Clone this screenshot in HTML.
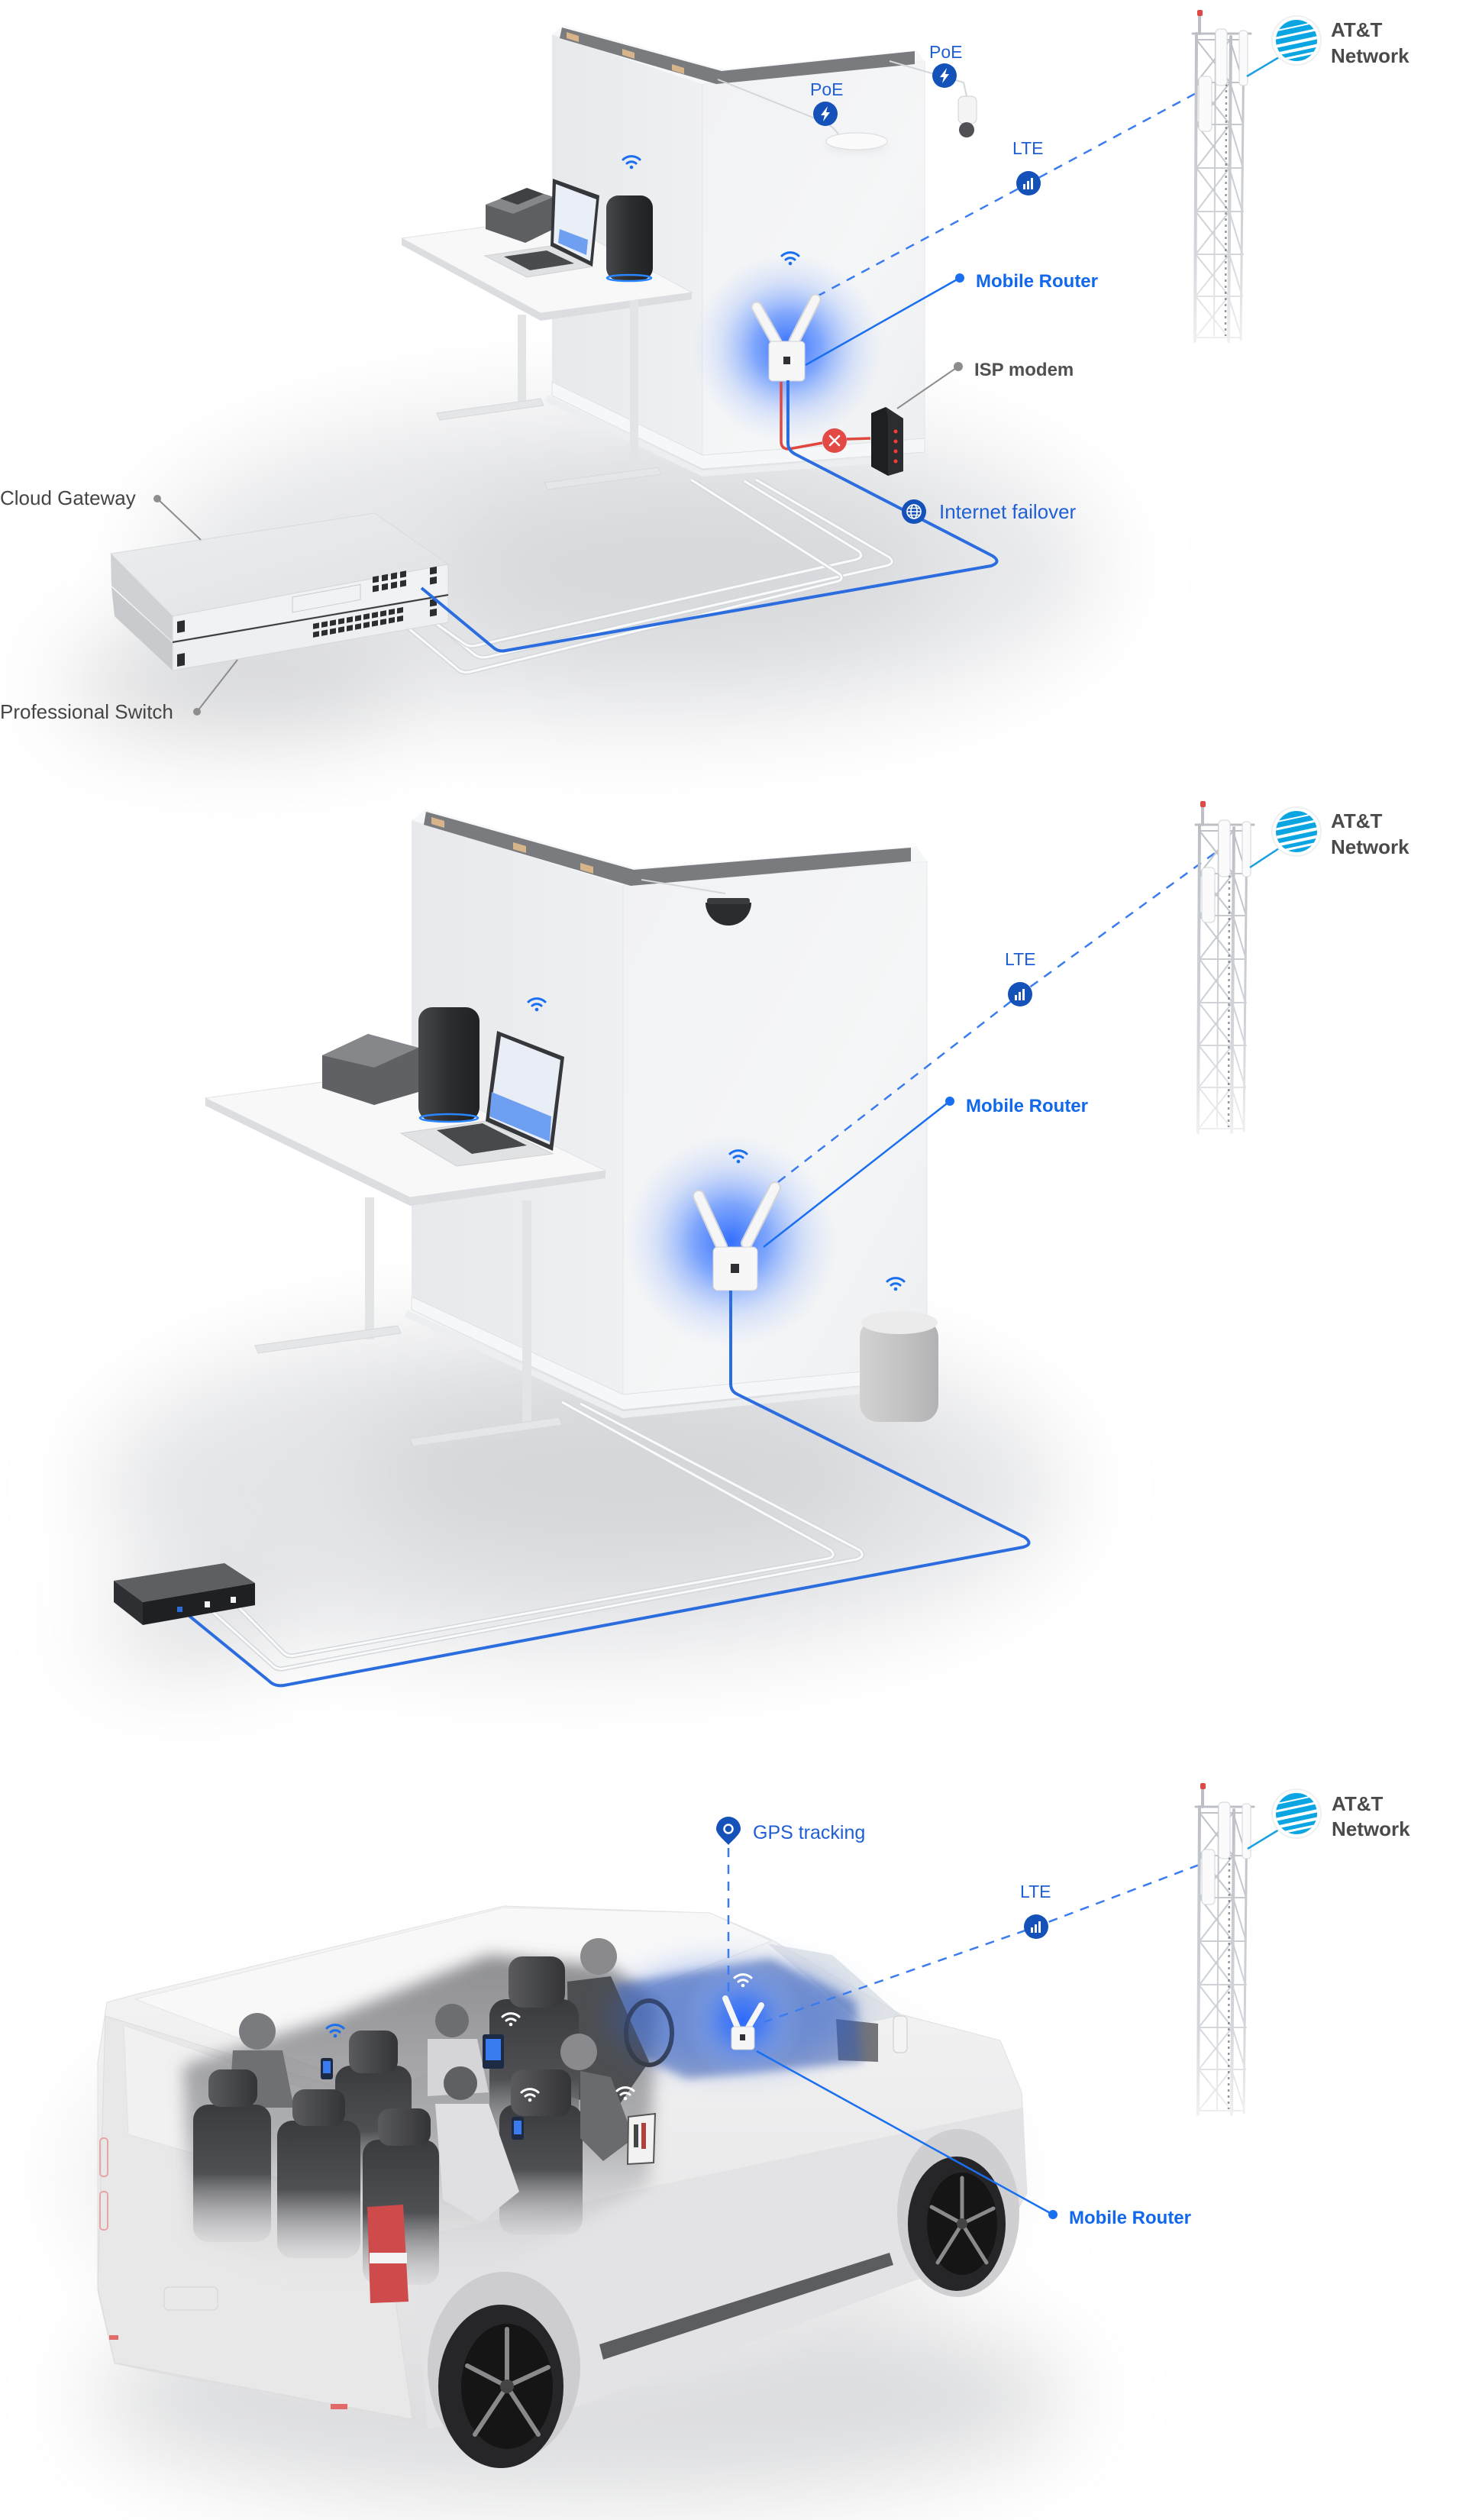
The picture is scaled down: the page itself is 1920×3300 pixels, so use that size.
<!DOCTYPE html>
<html><head><meta charset="utf-8">
<style>
html,body{margin:0;padding:0;background:#fff;}
svg{display:block}
text{font-family:"Liberation Sans",sans-serif;}
</style></head>
<body>
<svg width="1920" height="3300" viewBox="0 0 1920 3300" xmlns="http://www.w3.org/2000/svg">
<defs>
  <filter id="b60" x="-50%" y="-50%" width="200%" height="200%"><feGaussianBlur stdDeviation="60"/></filter>
  <filter id="b35" x="-50%" y="-50%" width="200%" height="200%"><feGaussianBlur stdDeviation="35"/></filter>
  <filter id="b20" x="-50%" y="-50%" width="200%" height="200%"><feGaussianBlur stdDeviation="20"/></filter>
  <filter id="b10" x="-50%" y="-50%" width="200%" height="200%"><feGaussianBlur stdDeviation="10"/></filter>
  <filter id="b6" x="-50%" y="-50%" width="200%" height="200%"><feGaussianBlur stdDeviation="6"/></filter>
  <linearGradient id="wl" x1="0" y1="0" x2="1" y2="0"><stop offset="0" stop-color="#e7e9ec"/><stop offset="1" stop-color="#eef0f2"/></linearGradient>
  <linearGradient id="wr" x1="0" y1="0" x2="1" y2="1"><stop offset="0" stop-color="#f1f2f4"/><stop offset="0.6" stop-color="#f5f6f7"/><stop offset="1" stop-color="#eceef0"/></linearGradient>
  <radialGradient id="glow"><stop offset="0" stop-color="#2a68ff" stop-opacity="0.95"/><stop offset="0.35" stop-color="#3f7bff" stop-opacity="0.65"/><stop offset="0.7" stop-color="#7fa6ff" stop-opacity="0.25"/><stop offset="1" stop-color="#a9c3ff" stop-opacity="0"/></radialGradient>
  <linearGradient id="swtop" x1="0" y1="0" x2="1" y2="1"><stop offset="0" stop-color="#eceef0"/><stop offset="1" stop-color="#dfe1e4"/></linearGradient>
  <linearGradient id="spk" x1="0" y1="0" x2="1" y2="0"><stop offset="0" stop-color="#46484c"/><stop offset="0.5" stop-color="#2b2d31"/><stop offset="1" stop-color="#1f2124"/></linearGradient>
  <linearGradient id="gspk" x1="0" y1="0" x2="1" y2="0"><stop offset="0" stop-color="#d2d2d3"/><stop offset="0.5" stop-color="#c4c4c5"/><stop offset="1" stop-color="#b2b2b4"/></linearGradient>
  <linearGradient id="tw" gradientUnits="userSpaceOnUse" x1="0" y1="40" x2="0" y2="450"><stop offset="0" stop-color="#bcc0c6"/><stop offset="0.7" stop-color="#d2d5d9"/><stop offset="1" stop-color="#f0f1f3"/></linearGradient>
  <linearGradient id="vanb" x1="0" y1="0" x2="0" y2="1"><stop offset="0" stop-color="#f6f6f7"/><stop offset="0.45" stop-color="#ececed"/><stop offset="1" stop-color="#dedee0"/></linearGradient>
  <linearGradient id="seatg" x1="0" y1="0" x2="0" y2="1"><stop offset="0" stop-color="#3a3b3e"/><stop offset="0.5" stop-color="#4f5054"/><stop offset="1" stop-color="#c9c9cb" stop-opacity="0.3"/></linearGradient>
  <linearGradient id="backdrop" x1="0" y1="0" x2="0" y2="1"><stop offset="0" stop-color="#6a6b6e" stop-opacity="0.75"/><stop offset="0.55" stop-color="#7a7b7e" stop-opacity="0.55"/><stop offset="1" stop-color="#d5d5d7" stop-opacity="0"/></linearGradient>
  <linearGradient id="headg" x1="0" y1="0" x2="1" y2="0"><stop offset="0" stop-color="#5a5b5e"/><stop offset="1" stop-color="#333437"/></linearGradient>
  <clipPath id="attc"><circle r="27"/></clipPath>

  <g id="wifi" fill="none" stroke="#1a6ff0" stroke-width="3" stroke-linecap="round"><path d="M-11,-3 A16,16 0 0 1 11,-3"/><path d="M-6,2 A9,9 0 0 1 6,2"/><circle cx="0" cy="7" r="2.3" fill="#1a6ff0" stroke="none"/></g>
  <g id="wifiw" fill="none" stroke="#ffffff" stroke-width="3" stroke-linecap="round"><path d="M-11,-3 A16,16 0 0 1 11,-3"/><path d="M-6,2 A9,9 0 0 1 6,2"/><circle cx="0" cy="7" r="2.3" fill="#ffffff" stroke="none"/></g>
  <g id="lte"><circle r="16" fill="#1451b8"/><rect x="-7" y="1" width="3" height="7" fill="#fff"/><rect x="-2" y="-3" width="3" height="11" fill="#fff"/><rect x="3" y="-7" width="3" height="15" fill="#fff"/></g>
  <g id="poe"><circle r="16" fill="#1451b8"/><polygon points="3,-10 -6,2 -1,2 -3,10 6,-2 1,-2" fill="#fff"/></g>
  <g id="net"><circle r="16" fill="#1451b8"/><g fill="none" stroke="#fff" stroke-width="1.6"><circle r="9"/><ellipse rx="4" ry="9"/><line x1="-9" y1="0" x2="9" y2="0"/><path d="M-8,-4.5 H8 M-8,4.5 H8"/></g></g>
  <g id="xi"><circle r="16" fill="#e24a46"/><path d="M-6,-6 L6,6 M6,-6 L-6,6" stroke="#fff" stroke-width="2.5" stroke-linecap="round"/></g>
  <g id="gps"><path d="M0,18 C-4,13 -16,4 -16,-3 A16,16 0 0 1 16,-3 C16,4 4,13 0,18 Z" fill="#1451b8"/><circle cx="0" cy="-3" r="5.5" fill="none" stroke="#fff" stroke-width="2.5"/></g>
  <g id="att"><circle r="32" fill="#fff" stroke="#eef0f2" stroke-width="2"/><circle r="27" fill="#0ba6e2"/>
    <g clip-path="url(#attc)"><g transform="rotate(-12)" fill="#fff"><rect x="-32" y="-19" width="64" height="2"/><rect x="-32" y="-10" width="64" height="3"/><rect x="-32" y="0" width="64" height="4"/><rect x="-32" y="10" width="64" height="4"/><rect x="-32" y="19" width="64" height="3"/></g></g></g>

  <g id="tower">
    <g fill="none" stroke="url(#tw)" stroke-linecap="round">
      <line x1="1571" y1="20" x2="1571" y2="44" stroke-width="4"/>
      <line x1="1562" y1="44" x2="1638" y2="44" stroke-width="3"/>
      <line x1="1567" y1="44" x2="1565" y2="447" stroke-width="4"/>
      <line x1="1612" y1="48" x2="1609" y2="447" stroke-width="4"/>
      <line x1="1629" y1="44" x2="1625" y2="445" stroke-width="3"/>
      <line x1="1592" y1="44" x2="1590" y2="440" stroke-width="2"/>
      <path stroke-width="2" d="M1567 52H1628 M1567 108H1628 M1567 163H1628 M1567 220H1628 M1567 277H1628 M1567 333H1628 M1567 388H1627 M1566 442H1626
      M1567 52L1611 108M1611 52L1567 108 M1567 108L1611 163M1611 108L1567 163 M1567 163L1611 220M1611 163L1567 220 M1567 220L1610 277M1610 220L1567 277 M1566 277L1610 333M1610 277L1566 333 M1566 333L1610 388M1610 333L1566 388 M1566 388L1609 442M1609 388L1566 442
      M1611 52L1628 108 M1611 108L1628 163 M1611 163L1628 220 M1610 220L1627 277 M1610 277L1627 333 M1610 333L1627 388 M1609 388L1626 442"/>
    </g>
    <line x1="1606" y1="110" x2="1605" y2="440" stroke="#444" stroke-width="2.5" stroke-dasharray="3 5" opacity="0.55"/>
    <rect x="1592" y="38" width="15" height="74" rx="5" fill="#fbfbfc" stroke="#d3d6da"/>
    <rect x="1570" y="100" width="17" height="72" rx="5" fill="#fbfbfc" stroke="#d3d6da"/>
    <rect x="1623" y="40" width="11" height="72" rx="4" fill="#fbfbfc" stroke="#d3d6da"/>
    <rect x="1568" y="13" width="7" height="8" rx="2" fill="#e04848"/>
  </g>

  <path id="p1c1" d="M 990,628 L 1165,730 Q 1173,738 1160,741 L 640,860 Q 628,863 620,856 L 540,790"/>
  <path id="p1c2" d="M 975,630 L 1125,722 Q 1132,730 1120,733 L 625,845 Q 614,848 607,842 L 522,782"/>
  <path id="p1c3" d="M 905,628 L 1100,752 Q 1106,760 1094,762 L 615,880 Q 604,882 598,875 L 505,798"/>
  <path id="p2c1" d="M 736,1836 L 1088,2030 Q 1096,2038 1084,2041 L 386,2168 Q 376,2170 370,2163 L 305,2097"/>
  <path id="p2c2" d="M 760,1838 L 1126,2030 Q 1134,2038 1122,2042 L 372,2185 Q 362,2187 356,2180 L 270,2103"/>
</defs>

<!-- ================= PANEL 1 ================= -->
<g filter="url(#b60)">
  <ellipse cx="820" cy="740" rx="620" ry="210" fill="#e6e7e9"/>
  <ellipse cx="900" cy="745" rx="330" ry="120" fill="#d8d9dc"/>
  <ellipse cx="320" cy="895" rx="230" ry="65" fill="#d3d4d6"/>
</g>

<polygon points="723,45 920,110 920,612 723,516" fill="url(#wl)"/>
<polygon points="920,110 1211,80 1211,590 920,612" fill="url(#wr)" stroke="#e4e6e9" stroke-width="1"/>
<polygon points="723,45 738,33 945,91 1200,66 1211,80 920,110" fill="#f6f7f8"/>
<polygon points="736,36 945,93 1198,67 1198,84 938,110 733,50" fill="#7a7b7e"/>
<polygon points="742,42 758,47 758,55 742,50" fill="#d8b48a"/>
<polygon points="815,64 831,69 831,77 815,72" fill="#d8b48a"/>
<polygon points="880,84 896,89 896,97 880,92" fill="#d8b48a"/>
<polygon points="723,500 920,596 1211,574 1211,592 920,614 723,518" fill="#f6f7f8" stroke="#dfe1e4"/>
<polygon points="718,518 920,616 1216,594 1216,602 920,624 714,526" fill="#eceef0"/>

<rect x="678" y="412" width="11" height="122" fill="#e3e4e6"/>
<polygon points="572,541 708,522 712,531 576,550" fill="#e5e6e8" stroke="#d7d8da"/>
<polygon points="526,312 724,285 906,383 708,410" fill="#f8f8f9" stroke="#e1e2e4"/>
<polygon points="526,312 708,410 906,383 906,392 708,420 526,321" fill="#dcdde0"/>
<rect x="825" y="393" width="11" height="230" fill="#e3e4e6"/>
<polygon points="713,632 862,612 866,621 717,641" fill="#e5e6e8" stroke="#d7d8da"/>

<polygon points="636,268 690,247 725,258 725,300 688,318 636,300" fill="#5d5f63"/>
<polygon points="636,268 690,247 725,258 672,280" fill="#85878b"/>
<polygon points="655,260 690,246 712,254 678,268" fill="#3f4145"/>
<polygon points="635,335 721,322 776,349 690,363" fill="#e0e1e3" stroke="#cfd0d2"/>
<polygon points="660,336 716,328 752,345 694,354" fill="#4a4b4e"/>
<polygon points="724,234 785,256 776,349 721,322" fill="#35373b"/>
<polygon points="728,241 781,261 773,342 725,318" fill="#e9eef7"/>
<polygon points="733,300 770,314 768,334 731,318" fill="#6f9ff0"/>
<rect x="794" y="256" width="61" height="111" rx="16" fill="url(#spk)"/>
<ellipse cx="824" cy="364" rx="29" ry="4" fill="none" stroke="#2a86ff" stroke-width="2.5"/>

<path d="M 940,104 L 1080,160 Q 1095,168 1100,180" fill="none" stroke="#d3d6da" stroke-width="2"/>
<path d="M 1165,80 L 1262,108 L 1266,126" fill="none" stroke="#d3d6da" stroke-width="2"/>
<ellipse cx="1122" cy="190" rx="40" ry="9" fill="#e4e5e7" filter="url(#b6)"/>
<ellipse cx="1122" cy="185" rx="40" ry="11" fill="#fbfbfb" stroke="#d9dadc"/>
<rect x="1255" y="126" width="24" height="36" rx="7" fill="#f4f4f5" stroke="#cfd0d2"/>
<circle cx="1266" cy="170" r="10" fill="#505155"/>

<circle cx="1032" cy="455" r="125" fill="url(#glow)"/>
<use href="#wifi" transform="translate(1035,338)"/>
<use href="#wifi" transform="translate(827,212)"/>
<path d="M 1070,388 L 1347,240 L 1598,105" fill="none" stroke="#3a7cf0" stroke-width="2.5" stroke-dasharray="12 10"/>
<g stroke-linecap="round">
  <line x1="1018" y1="450" x2="991" y2="402" stroke="#d3d5d8" stroke-width="15"/>
  <line x1="1040" y1="447" x2="1068" y2="392" stroke="#d3d5d8" stroke-width="15"/>
  <line x1="1018" y1="450" x2="991" y2="402" stroke="#f6f6f7" stroke-width="11"/>
  <line x1="1040" y1="447" x2="1068" y2="392" stroke="#f6f6f7" stroke-width="11"/>
</g>
<rect x="1007" y="447" width="47" height="52" rx="5" fill="#f7f7f8" stroke="#cfd1d4"/>
<rect x="1026" y="467" width="9" height="10" fill="#2f3033"/>

<polygon points="1141,541 1160,533 1183,548 1183,617 1163,623 1141,611" fill="#1e1f21"/>
<polygon points="1160,533 1183,548 1183,617 1163,623 1163,548" fill="#2c2d30"/>
<circle cx="1173" cy="565" r="2.5" fill="#ff3b30"/><circle cx="1173" cy="578" r="2.5" fill="#ff3b30"/><circle cx="1173" cy="591" r="2.5" fill="#ff3b30"/><circle cx="1173" cy="604" r="2.5" fill="#ff3b30"/>

<use href="#p1c1" fill="none" stroke="#d4d7db" stroke-width="6" stroke-linejoin="round"/>
<use href="#p1c1" fill="none" stroke="#fafbfc" stroke-width="3" stroke-linejoin="round"/>
<use href="#p1c2" fill="none" stroke="#d4d7db" stroke-width="6" stroke-linejoin="round"/>
<use href="#p1c2" fill="none" stroke="#fafbfc" stroke-width="3" stroke-linejoin="round"/>
<use href="#p1c3" fill="none" stroke="#d4d7db" stroke-width="6" stroke-linejoin="round"/>
<use href="#p1c3" fill="none" stroke="#fafbfc" stroke-width="3" stroke-linejoin="round"/>

<polygon points="145,725 491,672 587,739 226,807" fill="url(#swtop)" stroke="#d8dadd"/>
<polygon points="145,725 226,807 226,840 146,767" fill="#cfd1d4"/>
<polygon points="226,807 587,739 587,778 226,840" fill="#f1f2f3" stroke="#d5d7da"/>
<polygon points="146,769 226,842 226,878 150,807" fill="#c8cacd"/>
<polygon points="226,842 587,780 587,815 226,878" fill="#eeeff1" stroke="#d5d7da"/>
<line x1="226" y1="841" x2="587" y2="779" stroke="#3a3b3e" stroke-width="2"/>
<g transform="matrix(1,-0.1856,0,1,0,0)">
  <rect x="383" y="853" width="89" height="20" fill="none" stroke="#c9cbce"/>
  <g fill="#2c2d30">
    <rect x="488" y="846" width="8" height="8"/><rect x="500" y="846" width="8" height="8"/><rect x="512" y="846" width="8" height="8"/><rect x="524" y="846" width="8" height="8"/>
    <rect x="488" y="858" width="8" height="8"/><rect x="500" y="858" width="8" height="8"/><rect x="512" y="858" width="8" height="8"/><rect x="524" y="858" width="8" height="8"/>
    <rect x="563" y="848" width="9" height="9"/><rect x="563" y="861" width="9" height="9"/>
    <rect x="410" y="893" width="8" height="7"/><rect x="421" y="893" width="8" height="7"/><rect x="432" y="893" width="8" height="7"/><rect x="443" y="893" width="8" height="7"/><rect x="454" y="893" width="8" height="7"/><rect x="465" y="893" width="8" height="7"/><rect x="476" y="893" width="8" height="7"/><rect x="487" y="893" width="8" height="7"/><rect x="498" y="893" width="8" height="7"/><rect x="509" y="893" width="8" height="7"/><rect x="520" y="893" width="8" height="7"/>
    <rect x="410" y="904" width="8" height="7"/><rect x="421" y="904" width="8" height="7"/><rect x="432" y="904" width="8" height="7"/><rect x="443" y="904" width="8" height="7"/><rect x="454" y="904" width="8" height="7"/><rect x="465" y="904" width="8" height="7"/><rect x="476" y="904" width="8" height="7"/><rect x="487" y="904" width="8" height="7"/><rect x="498" y="904" width="8" height="7"/><rect x="509" y="904" width="8" height="7"/><rect x="520" y="904" width="8" height="7"/>
    <rect x="563" y="890" width="9" height="9"/><rect x="563" y="903" width="9" height="9"/>
    <rect x="232" y="857" width="10" height="15"/><rect x="232" y="900" width="10" height="16"/>
  </g>
</g>

<path d="M 1023,500 L 1023,578 Q 1023,588 1033,588 L 1077,580 M 1109,575 L 1140,574" fill="none" stroke="#e0483f" stroke-width="3.5"/>
<path d="M 1032,498 L 1032,580 Q 1032,590 1042,595 L 1300,728 Q 1312,736 1298,741 L 662,852 Q 652,854 645,847 L 552,770" fill="none" stroke="#2b6ddf" stroke-width="4" stroke-linejoin="round"/>
<use href="#xi" transform="translate(1093,577)"/>
<use href="#net" transform="translate(1197,670)"/>
<use href="#poe" transform="translate(1081,149)"/>
<use href="#poe" transform="translate(1237,99)"/>
<use href="#lte" transform="translate(1347,240)"/>

<line x1="1055" y1="478" x2="1257" y2="364" stroke="#1a6ff0" stroke-width="2.5"/>
<circle cx="1257" cy="364" r="6" fill="#1a6ff0"/>
<line x1="1175" y1="535" x2="1255" y2="480" stroke="#8d8d8d" stroke-width="2"/>
<circle cx="1255" cy="480" r="6" fill="#8d8d8d"/>
<line x1="206" y1="653" x2="263" y2="707" stroke="#8d8d8d" stroke-width="2"/>
<circle cx="206" cy="653" r="5" fill="#8d8d8d"/>
<line x1="258" y1="932" x2="311" y2="864" stroke="#8d8d8d" stroke-width="2"/>
<circle cx="258" cy="932" r="5" fill="#8d8d8d"/>

<text x="1061" y="125" font-size="23" fill="#1f5fd6">PoE</text>
<text x="1217" y="76" font-size="23" fill="#1f5fd6">PoE</text>
<text x="1326" y="202" font-size="23" fill="#1f5fd6">LTE</text>
<text x="1278" y="376" font-size="24" font-weight="bold" fill="#1268ea">Mobile Router</text>
<text x="1276" y="492" font-size="24" font-weight="bold" fill="#505050">ISP modem</text>
<text x="1230" y="679" font-size="26" fill="#1f5fd6">Internet failover</text>
<text x="0" y="661" font-size="26" fill="#454545">Cloud Gateway</text>
<text x="0" y="941" font-size="26" fill="#454545">Professional Switch</text>

<use href="#tower"/>
<line x1="1675" y1="75" x2="1633" y2="100" stroke="#1aa0e0" stroke-width="2.5"/>
<use href="#att" transform="translate(1698,53)"/>
<text x="1743" y="48" font-size="26" font-weight="bold" fill="#4a4a4a">AT&amp;T</text>
<text x="1743" y="82" font-size="26" font-weight="bold" fill="#4a4a4a">Network</text>

<!-- ================= PANEL 2 ================= -->
<g filter="url(#b60)">
  <ellipse cx="760" cy="1950" rx="630" ry="220" fill="#e4e5e7"/>
  <ellipse cx="820" cy="1930" rx="350" ry="125" fill="#d6d7da"/>
  <ellipse cx="245" cy="2135" rx="120" ry="35" fill="#d0d1d3"/>
</g>

<polygon points="539,1074 816,1159 816,1843 539,1713" fill="url(#wl)"/>
<polygon points="816,1159 1214,1128 1214,1805 816,1843" fill="url(#wr)" stroke="#e4e6e9"/>
<polygon points="539,1074 558,1060 832,1137 1200,1108 1214,1128 816,1159" fill="#f6f7f8"/>
<polygon points="558,1063 830,1139 1193,1110 1193,1128 826,1160 555,1080" fill="#7a7b7e"/>
<polygon points="565,1070 582,1075 582,1084 565,1079" fill="#d8b48a"/>
<polygon points="672,1103 689,1108 689,1117 672,1112" fill="#d8b48a"/>
<polygon points="760,1130 777,1135 777,1144 760,1139" fill="#d8b48a"/>
<polygon points="539,1698 816,1826 1214,1788 1214,1806 816,1846 539,1715" fill="#f6f7f8" stroke="#dfe1e4"/>
<polygon points="534,1716 816,1848 1218,1808 1218,1816 816,1857 530,1724" fill="#eceef0"/>

<path d="M 840,1152 L 950,1170" stroke="#d3d6da" stroke-width="2" fill="none"/>
<path d="M 924,1182 A 30,30 0 0 0 984,1182 Z" fill="#2b2c2f"/>
<rect x="926" y="1176" width="56" height="8" rx="3" fill="#3a3b3e"/>

<rect x="478" y="1568" width="12" height="186" fill="#e3e4e6"/>
<polygon points="334,1762 521,1736 525,1746 338,1772" fill="#e5e6e8" stroke="#d7d8da"/>
<polygon points="269,1438 525,1403 793,1533 537,1568" fill="#f8f8f9" stroke="#e1e2e4"/>
<polygon points="269,1438 537,1568 793,1533 793,1543 537,1579 269,1448" fill="#dcdde0"/>
<rect x="684" y="1572" width="12" height="292" fill="#e3e4e6"/>
<polygon points="537,1884 732,1856 736,1866 541,1894" fill="#e5e6e8" stroke="#d7d8da"/>

<polygon points="422,1382 482,1354 548,1372 548,1430 490,1447 422,1425" fill="#5f6165"/>
<polygon points="422,1382 482,1354 548,1372 490,1398" fill="#85878b"/>
<rect x="548" y="1319" width="80" height="149" rx="18" fill="url(#spk)"/>
<ellipse cx="588" cy="1464" rx="38" ry="5" fill="none" stroke="#2a86ff" stroke-width="2.5"/>
<polygon points="525,1484 636,1468 724,1511 598,1527" fill="#e1e2e4" stroke="#cfd0d2"/>
<polygon points="572,1480 632,1471 690,1500 618,1511" fill="#48494c"/>
<polygon points="651,1350 739,1384 724,1507 636,1468" fill="#35373b"/>
<polygon points="656,1357 734,1388 720,1499 641,1464" fill="#e8edf6"/>
<polygon points="644,1430 722,1462 720,1495 641,1462" fill="#6f9ff0"/>

<circle cx="957" cy="1625" r="140" fill="url(#glow)"/>
<use href="#wifi" transform="translate(703,1315)"/>
<use href="#wifi" transform="translate(967,1514)"/>
<use href="#wifi" transform="translate(1173,1681)"/>
<path d="M 1019,1548 L 1336,1302 L 1598,1112" fill="none" stroke="#3a7cf0" stroke-width="2.5" stroke-dasharray="12 10"/>
<g stroke-linecap="round">
  <line x1="945" y1="1632" x2="915" y2="1566" stroke="#d3d5d8" stroke-width="16"/>
  <line x1="978" y1="1628" x2="1015" y2="1555" stroke="#d3d5d8" stroke-width="16"/>
  <line x1="945" y1="1632" x2="915" y2="1566" stroke="#f6f6f7" stroke-width="12"/>
  <line x1="978" y1="1628" x2="1015" y2="1555" stroke="#f6f6f7" stroke-width="12"/>
</g>
<rect x="934" y="1633" width="58" height="57" rx="6" fill="#f7f7f8" stroke="#cfd1d4"/>
<rect x="957" y="1655" width="11" height="12" fill="#2f3033"/>

<rect x="1126" y="1727" width="103" height="135" rx="24" fill="url(#gspk)"/>
<ellipse cx="1178" cy="1732" rx="50" ry="15" fill="#ebebec"/>

<use href="#p2c1" fill="none" stroke="#d4d7db" stroke-width="6" stroke-linejoin="round"/>
<use href="#p2c1" fill="none" stroke="#fafbfc" stroke-width="3" stroke-linejoin="round"/>
<use href="#p2c2" fill="none" stroke="#d4d7db" stroke-width="6" stroke-linejoin="round"/>
<use href="#p2c2" fill="none" stroke="#fafbfc" stroke-width="3" stroke-linejoin="round"/>
<path d="M 957,1690 L 957,1812 Q 957,1822 966,1826 L 1342,2013 Q 1354,2022 1340,2026 L 372,2207 Q 360,2209 352,2201 L 238,2108" fill="none" stroke="#2b6ddf" stroke-width="4" stroke-linejoin="round"/>

<polygon points="149,2070 294,2047 334,2073 187,2098" fill="#5d5f63"/>
<polygon points="149,2070 187,2098 187,2128 149,2098" fill="#2e2f32"/>
<polygon points="187,2098 334,2073 334,2102 187,2128" fill="#1f2022"/>
<rect x="232" y="2104" width="7" height="7" fill="#2b6ddf"/>
<rect x="268" y="2097" width="7" height="8" fill="#f4f4f4"/>
<rect x="302" y="2091" width="7" height="8" fill="#f4f4f4"/>

<line x1="1000" y1="1633" x2="1244" y2="1442" stroke="#1a6ff0" stroke-width="2.5"/>
<circle cx="1244" cy="1442" r="6" fill="#1a6ff0"/>
<use href="#lte" transform="translate(1336,1302)"/>
<text x="1316" y="1264" font-size="23" fill="#1f5fd6">LTE</text>
<text x="1265" y="1456" font-size="24" font-weight="bold" fill="#1268ea">Mobile Router</text>

<use href="#tower" transform="translate(4,1036)"/>
<line x1="1675" y1="1111" x2="1637" y2="1136" stroke="#1aa0e0" stroke-width="2.5"/>
<use href="#att" transform="translate(1698,1089)"/>
<text x="1743" y="1084" font-size="26" font-weight="bold" fill="#4a4a4a">AT&amp;T</text>
<text x="1743" y="1118" font-size="26" font-weight="bold" fill="#4a4a4a">Network</text>

<!-- ================= PANEL 3 ================= -->
<g filter="url(#b60)">
  <ellipse cx="760" cy="3140" rx="640" ry="130" fill="#dadbdd"/>
  <ellipse cx="700" cy="2850" rx="600" ry="250" fill="#eeeeef"/>
</g>

<polygon points="140,2622 177,2612 660,2496 930,2505 1010,2540 1180,2638 1310,2672 1338,2740 1345,2872 1325,2905 1300,2960 1200,2985 720,3165 560,3180 470,3162 150,3095 128,3000 128,2700" fill="url(#vanb)" stroke="#e0e0e2"/>
<polygon points="177,2618 660,2498 930,2505 1010,2542 500,2740" fill="#f8f8f9" stroke="#e6e6e8"/>
<polygon points="138,2640 480,2745 540,3168 150,3094 128,2995" fill="#e8e8e9" stroke="#dcdcde"/>
<polygon points="162,2652 470,2760 478,2885 168,2795" fill="#f1f1f2" stroke="#e2e2e4"/>
<polygon points="540,2930 1340,2760 1345,2872 1300,2960 1200,2985 720,3165 560,3180" fill="#e3e3e5"/>
<rect x="131" y="2800" width="10" height="50" rx="4" fill="none" stroke="#e8a3a3" stroke-width="2"/>
<rect x="131" y="2870" width="10" height="50" rx="4" fill="none" stroke="#e8a3a3" stroke-width="2"/>
<rect x="215" y="2995" width="70" height="30" rx="6" fill="#e9e9ea" stroke="#d3d3d5"/>

<!-- interior backdrop -->
<polygon points="240,2705 440,2640 640,2560 800,2575 860,2620 850,2860 620,2990 400,2990 250,2930" fill="url(#backdrop)" filter="url(#b10)"/>

<!-- dashboard + windows -->
<polygon points="1005,2545 1090,2560 1180,2640 1130,2650" fill="#d7dbe3" opacity="0.7"/>
<polygon points="1095,2644 1150,2650 1150,2700 1098,2698" fill="#55565a" opacity="0.8"/>
<rect x="1170" y="2640" width="18" height="48" rx="6" fill="#f4f4f4" stroke="#c9c9cb"/>
<polygon points="800,2600 1010,2565 1120,2620 1130,2700 900,2722 820,2685" fill="#3d5fae" opacity="0.55" filter="url(#b6)"/>

<g>
  <path d="M 743,2595 L 800,2588 L 832,2660 L 850,2700 L 805,2765 L 745,2745 Z" fill="#4d4e51"/>
  <circle cx="784" cy="2562" r="24" fill="#8a8a8d"/>
  <ellipse cx="850" cy="2662" rx="30" ry="42" fill="none" stroke="#38393c" stroke-width="6"/>
  <rect x="641" y="2618" width="117" height="210" rx="22" fill="url(#seatg)"/>
  <rect x="666" y="2562" width="74" height="67" rx="18" fill="url(#headg)"/>
  <circle cx="592" cy="2646" r="22" fill="#6d6e71"/>
  <path d="M 560,2670 L 625,2670 L 640,2740 L 560,2745 Z" fill="#d5d5d7"/>
  <rect x="439" y="2705" width="100" height="170" rx="20" fill="url(#seatg)"/>
  <rect x="457" y="2659" width="64" height="56" rx="16" fill="url(#headg)"/>
  <rect x="654" y="2756" width="109" height="170" rx="20" fill="url(#seatg)"/>
  <rect x="669" y="2710" width="79" height="61" rx="16" fill="url(#headg)"/>
  <circle cx="758" cy="2687" r="24" fill="#8a8a8d"/>
  <path d="M 760,2712 L 800,2720 L 830,2800 L 790,2830 L 760,2800 Z" fill="#6a6b6e"/>
  <polygon points="823,2772 858,2768 856,2832 822,2834" fill="#f2f2f3" stroke="#555" stroke-width="2"/>
  <rect x="830" y="2782" width="6" height="30" fill="#444"/><rect x="840" y="2780" width="6" height="34" fill="#b04040"/>
  <circle cx="337" cy="2660" r="24" fill="#7a7b7e"/>
  <path d="M 305,2685 L 370,2685 L 385,2760 L 300,2760 Z" fill="#6f7073"/>
  <rect x="253" y="2756" width="102" height="180" rx="20" fill="url(#seatg)"/>
  <rect x="273" y="2710" width="64" height="49" rx="16" fill="url(#headg)"/>
  <rect x="363" y="2777" width="109" height="180" rx="20" fill="url(#seatg)"/>
  <rect x="383" y="2736" width="69" height="48" rx="16" fill="url(#headg)"/>
  <circle cx="603" cy="2728" r="22" fill="#5f6063"/>
  <path d="M 570,2755 L 640,2755 L 680,2870 L 630,2910 L 580,2880 Z" fill="#e0e0e2"/>
  <rect x="475" y="2802" width="100" height="190" rx="20" fill="url(#seatg)"/>
  <rect x="495" y="2761" width="69" height="49" rx="16" fill="url(#headg)"/>
  <rect x="420" y="2695" width="16" height="28" rx="3" fill="#1d2a44"/>
  <rect x="423" y="2699" width="10" height="16" fill="#3a7cf0"/>
  <rect x="632" y="2664" width="28" height="45" rx="3" fill="#1d2a44"/>
  <rect x="636" y="2670" width="20" height="28" fill="#3a7cf0"/>
  <rect x="670" y="2772" width="16" height="30" rx="3" fill="#1d2a44"/>
  <rect x="673" y="2777" width="10" height="18" fill="#3a7cf0"/>
</g>

<polygon points="481,2890 528,2887 535,3014 485,3016" fill="#cf4a4a"/>
<rect x="484" y="2950" width="49" height="14" fill="#f3f3f3"/>
<rect x="143" y="3058" width="12" height="6" fill="#e36a6a"/>
<rect x="433" y="3148" width="22" height="7" fill="#e36a6a"/>
<polygon points="785,3070 1165,2950 1170,2966 790,3090" fill="#5c5d60"/>
<ellipse cx="660" cy="3100" rx="100" ry="125" fill="#cdcdcf"/>
<ellipse cx="656" cy="3125" rx="82" ry="107" fill="#262628"/>
<ellipse cx="664" cy="3125" rx="60" ry="82" fill="#151516"/>
<g stroke="#8a8a8d" stroke-width="6" stroke-linecap="round">
  <line x1="664" y1="3125" x2="664" y2="3050"/><line x1="664" y1="3125" x2="718" y2="3100"/><line x1="664" y1="3125" x2="705" y2="3188"/><line x1="664" y1="3125" x2="622" y2="3188"/><line x1="664" y1="3125" x2="612" y2="3098"/>
</g>
<circle cx="664" cy="3125" r="9" fill="#444"/>
<ellipse cx="1255" cy="2898" rx="80" ry="110" fill="#cfcfd1"/>
<ellipse cx="1253" cy="2912" rx="64" ry="88" fill="#262628"/>
<ellipse cx="1260" cy="2912" rx="46" ry="67" fill="#151516"/>
<g stroke="#8a8a8d" stroke-width="5" stroke-linecap="round">
  <line x1="1260" y1="2912" x2="1260" y2="2852"/><line x1="1260" y1="2912" x2="1301" y2="2892"/><line x1="1260" y1="2912" x2="1292" y2="2963"/><line x1="1260" y1="2912" x2="1228" y2="2963"/><line x1="1260" y1="2912" x2="1220" y2="2890"/>
</g>
<circle cx="1260" cy="2912" r="7" fill="#444"/>

<ellipse cx="960" cy="2640" rx="160" ry="70" fill="#2f63d8" opacity="0.35" filter="url(#b20)"/>
<circle cx="973" cy="2645" r="80" fill="url(#glow)"/>
<use href="#wifi" transform="translate(439,2659)"/>
<use href="#wifiw" transform="translate(669,2644)"/>
<use href="#wifiw" transform="translate(694,2743)"/>
<use href="#wifiw" transform="translate(819,2741)"/>
<use href="#wifiw" transform="translate(973,2593)"/>
<line x1="954" y1="2420" x2="954" y2="2612" stroke="#3a7cf0" stroke-width="2.5" stroke-dasharray="12 10"/>
<path d="M 1000,2648 L 1357,2523 L 1594,2433" fill="none" stroke="#3a7cf0" stroke-width="2.5" stroke-dasharray="12 10"/>
<g stroke-linecap="round">
  <line x1="966" y1="2655" x2="950" y2="2617" stroke="#f6f6f7" stroke-width="8"/>
  <line x1="980" y1="2655" x2="997" y2="2626" stroke="#f6f6f7" stroke-width="8"/>
</g>
<rect x="958" y="2654" width="30" height="30" rx="4" fill="#f7f7f8" stroke="#cfd1d4"/>
<rect x="969" y="2664" width="7" height="8" fill="#2f3033"/>
<line x1="991" y1="2686" x2="1379" y2="2900" stroke="#1a6ff0" stroke-width="2.5"/>
<circle cx="1379" cy="2900" r="6" fill="#1a6ff0"/>

<use href="#gps" transform="translate(954,2398)"/>
<text x="986" y="2408" font-size="25" fill="#1f5fd6">GPS tracking</text>
<use href="#lte" transform="translate(1357,2523)"/>
<text x="1336" y="2485" font-size="23" fill="#1f5fd6">LTE</text>
<text x="1400" y="2912" font-size="24" font-weight="bold" fill="#1268ea">Mobile Router</text>

<use href="#tower" transform="translate(4,2322)"/>
<line x1="1675" y1="2396" x2="1634" y2="2421" stroke="#1aa0e0" stroke-width="2.5"/>
<use href="#att" transform="translate(1698,2375)"/>
<text x="1744" y="2371" font-size="26" font-weight="bold" fill="#4a4a4a">AT&amp;T</text>
<text x="1744" y="2404" font-size="26" font-weight="bold" fill="#4a4a4a">Network</text>
</svg>
</body></html>
